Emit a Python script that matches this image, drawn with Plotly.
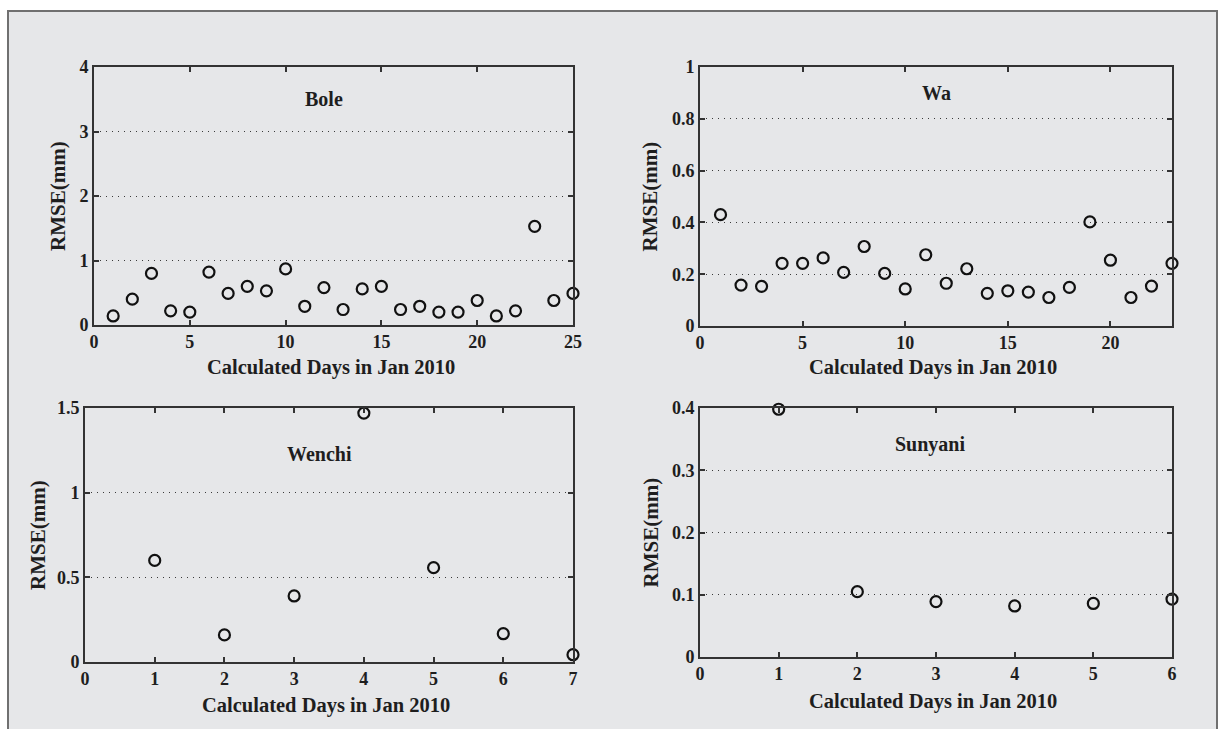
import plotly.graph_objects as go

W, H = 1219, 729

# ---- data ----
bole_days = list(range(1, 26))
bole_rmse = [0.14, 0.40, 0.80, 0.22, 0.20, 0.82, 0.49, 0.60, 0.53, 0.87,
             0.29, 0.58, 0.24, 0.56, 0.60, 0.24, 0.29, 0.20, 0.20, 0.38,
             0.14, 0.22, 1.53, 0.38, 0.49]

wa_days = list(range(1, 24))
wa_rmse = [0.43, 0.158, 0.153, 0.242, 0.242, 0.263, 0.207, 0.307, 0.203, 0.143,
           0.275, 0.165, 0.221, 0.126, 0.136, 0.131, 0.110, 0.149, 0.402, 0.254,
           0.110, 0.154, 0.242]

wenchi_days = list(range(1, 8))
wenchi_rmse = [0.60, 0.16, 0.39, 1.47, 0.557, 0.167, 0.043]

sunyani_days = list(range(1, 7))
sunyani_rmse = [0.398, 0.105, 0.089, 0.082, 0.086, 0.093]

station_names = ["Bole", "Wa", "Wenchi", "Sunyani"]
x_label = "Calculated Days in Jan 2010"
y_label = "RMSE(mm)"

# ---- layout helpers (pixel -> paper fraction) ----
def fx(px):
    return px / W

def fy(py):
    return 1 - py / H

FONT = "Liberation Serif"
AX = "#333333"
BG = "#e6e7e9"
TXT = "#1e1e1e"

panels = [
    dict(name=station_names[0], x=bole_days, y=bole_rmse, xr=[0, 25], dx=5, yr=[0, 4], dy=1,
         box=(94, 573, 67, 325), tpos=(12.0, 3.5), ylx=58, xly=367),
    dict(name=station_names[1], x=wa_days, y=wa_rmse, xr=[0, 23], dx=5, yr=[0, 1], dy=0.2,
         box=(700, 1172, 67, 326), tpos=(11.5, 0.9), ylx=650, xly=367),
    dict(name=station_names[2], x=wenchi_days, y=wenchi_rmse, xr=[0, 7], dx=1, yr=[0, 1.5], dy=0.5,
         box=(85, 573, 408, 662), tpos=(3.36, 1.23), ylx=38, xly=705),
    dict(name=station_names[3], x=sunyani_days, y=sunyani_rmse, xr=[0, 6], dx=1, yr=[0, 0.4], dy=0.1,
         box=(700, 1172, 408, 657), tpos=(2.92, 0.342), ylx=650, xly=701),
]

fig = go.Figure()
layout = dict(
    width=W, height=H,
    margin=dict(l=0, r=0, t=0, b=0, pad=0, autoexpand=False),
    paper_bgcolor="white",
    plot_bgcolor=BG,
    showlegend=False,
    font=dict(family=FONT, color=TXT, size=16),
)

annotations = []
shapes = [
    dict(type="rect", xref="paper", yref="paper", layer="below",
         x0=fx(8), x1=fx(1217), y0=fy(760), y1=fy(11),
         fillcolor=BG, line=dict(color="#707070", width=2)),
]

for i, p in enumerate(panels, start=1):
    xa = "x" if i == 1 else f"x{i}"
    ya = "y" if i == 1 else f"y{i}"
    l, r, t, b = p["box"]
    fig.add_trace(go.Scatter(
        x=p["x"], y=p["y"], mode="markers", xaxis=xa, yaxis=ya,
        cliponaxis=False,
        marker=dict(symbol="circle-open", size=11, color="#111111",
                    line=dict(width=2.2, color="#111111")),
    ))
    axis_common = dict(
        showline=True, linecolor=AX, linewidth=1.6, mirror="ticks",
        ticks="inside", ticklen=5, tickwidth=1.6, tickcolor=AX,
        tickfont=dict(family=FONT, size=18, color=TXT),
        tickprefix="<b>", ticksuffix="</b>",
        zeroline=False, fixedrange=True, automargin=False,
    )
    layout["xaxis" if i == 1 else f"xaxis{i}"] = dict(
        axis_common, domain=[fx(l), fx(r)], range=p["xr"], dtick=p["dx"], tick0=0,
        showgrid=False, anchor=ya,
    )
    layout["yaxis" if i == 1 else f"yaxis{i}"] = dict(
        axis_common, domain=[fy(b), fy(t)], range=p["yr"], dtick=p["dy"], tick0=0,
        showgrid=True, gridcolor="#3a3a3a", griddash="1px,5px", gridwidth=1.2,
        anchor=xa,
    )
    annotations.append(dict(
        x=p["tpos"][0], y=p["tpos"][1], xref=xa, yref=ya, text=f"<b>{p['name']}</b>",
        xanchor="center", yanchor="middle",
        showarrow=False, font=dict(family=FONT, size=20, color=TXT),
    ))
    annotations.append(dict(
        x=fx((l + r) / 2 - 3), y=fy(p["xly"]), xref="paper", yref="paper",
        xanchor="center", yanchor="middle",
        text=f"<b>{x_label}</b>", showarrow=False,
        font=dict(family=FONT, size=20.5, color=TXT),
    ))
    annotations.append(dict(
        x=fx(p["ylx"]), y=fy((t + b) / 2), xref="paper", yref="paper",
        xanchor="center", yanchor="middle",
        text=f"<b>{y_label}</b>", showarrow=False, textangle=-90,
        font=dict(family=FONT, size=21, color=TXT),
    ))

layout["annotations"] = annotations
layout["shapes"] = shapes
fig.update_layout(**layout)

fig.write_html(
    "out.html",
    config={"displayModeBar": False},
    post_script="document.body.style.margin='0';document.body.style.overflow='hidden';",
)
